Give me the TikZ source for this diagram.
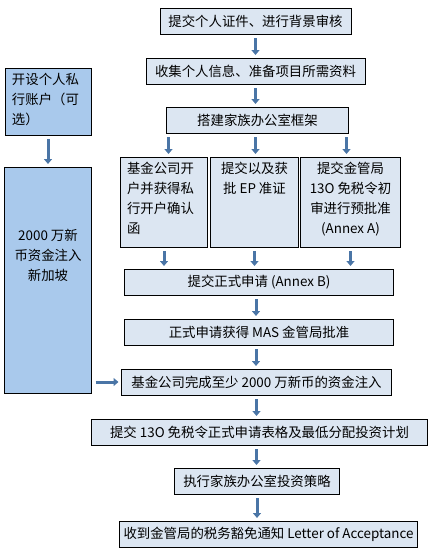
\documentclass[tikz,border=0pt]{standalone}
\usepackage{fontspec}
\setmainfont{Noto Sans CJK SC}
\usetikzlibrary{
	positioning,
	arrows.meta
}
\definecolor{paleblue}{HTML}{DCE6F2}
\definecolor{sideblue}{HTML}{A9C9EC}
\definecolor{arrowblue}{HTML}{4A75A6}

\begin{document}
\begin{tikzpicture}[
			x=1pt,y=1pt,
			node distance=24pt,
			font=\fontsize{13.4pt}{20pt}\selectfont,
			stepbox/.style={
				draw,
				line width=0.8pt,
				fill=paleblue,
				minimum height=26pt,
				inner sep=2pt,
				outer sep=0pt
			},
			cell/.style={
				draw,
				line width=0.8pt,
				fill=paleblue,
				minimum height=90pt,
				inner sep=0pt,
				outer sep=0pt
			},
			sidebox/.style={
				draw,
				line width=0.8pt,
				fill=sideblue,
				inner sep=0pt,
				outer sep=0pt
			},
			arrow/.style={-{Triangle[width=8pt,length=5pt]},line width=3pt,draw=arrowblue,shorten <=4pt,shorten >=3pt}
			]
			
			\useasboundingbox (0,0) rectangle (435,-550);
			
			\node[stepbox,minimum width=191pt] (check) at (255.5,-21)
			{提交个人证件、进行背景审核};
			
			\node[stepbox,minimum width=219pt,below=of check] (collect)
			{收集个人信息、准备项目所需资料};
			
			\node[stepbox,minimum width=182pt,below=23pt of collect,xshift=2pt] (frame)
			{搭建家族办公室框架};
			
			\node[cell,minimum width=88pt,below=24pt of frame,xshift=-3pt] (ep)
			{\parbox[c][80pt][t]{78pt}{\centering 提交以及获\\批 EP 准证}};
			
			\node[cell,minimum width=87pt,left=3pt of ep] (bank)
			{\parbox[c][80pt][t]{74pt}{\raggedright 基金公司开\\户并获得私\\行开户确认\\函}};
			
			\node[cell,minimum width=100pt,right=2pt of ep] (pre)
			{\parbox[c][80pt][t]{90pt}{\centering 提交金管局\\13O 免税令初\\审进行预批准\\(Annex A)}};
			
			\node[stepbox,minimum width=269pt,below=22pt of ep,xshift=4.5pt] (formal)
			{提交正式申请 (Annex B)};
			
			\node[stepbox,minimum width=269pt,below=of formal] (approve)
			{正式申请获得 MAS 金管局批准};
			
			\node[stepbox,minimum width=270pt,below=of approve,xshift=-2.5pt] (fund)
			{基金公司完成至少 2000 万新币的资金注入};
			
			\node[stepbox,minimum width=336pt,below=of fund,xshift=3pt] (form)
			{提交 13O 免税令正式申请表格及最低分配投资计划};
			
			\node[stepbox,minimum width=165pt,below=23pt of form,xshift=-2.5pt] (execute)
			{执行家族办公室投资策略};
			
			\node[stepbox,minimum width=298pt,below=27pt of execute,xshift=11.5pt] (accept)
			{收到金管局的税务豁免通知 Letter of Acceptance};
			
			\node[sidebox,minimum width=86pt,minimum height=67pt,anchor=north west] (account) at (5,-68)
			{\parbox[c][57pt][t]{72pt}{\raggedright 开设个人私\\行账户（可\\选）}};
			
			\node[sidebox,minimum width=87pt,minimum height=226pt,below=32pt of account] (capital)
			{\parbox[c][206pt][c]{80pt}{\centering 2000 万新\\币资金注入\\新加坡\par\vspace{50pt}}};
			
			\draw[arrow] (check.south)--(check.south |- collect.north);
			\draw[arrow] (collect.south)--(collect.south |- frame.north);
			\draw[arrow] ([xshift=2pt]frame.south west)--([xshift=2pt]frame.south west |- bank.north);
			\draw[arrow] ([xshift=-2pt]frame.south)--([xshift=-2pt]frame.south |- ep.north);
			\draw[arrow] ([xshift=-2pt]frame.south east)--([xshift=-2pt]frame.south east |- pre.north);
			\draw[arrow] (bank.south)--(bank.south |- formal.north);
			\draw[arrow] (ep.south)--(ep.south |- formal.north);
			\draw[arrow] (pre.south)--(pre.south |- formal.north);
			\draw[arrow] ([xshift=-3pt]formal.south)--([xshift=-3pt]formal.south |- approve.north);
			\draw[arrow] ([xshift=-3pt]approve.south)--([xshift=-3pt]approve.south |- fund.north);
			\draw[arrow] (fund.south)--(fund.south |- form.north);
			\draw[arrow] ([xshift=-3pt]form.south)--([xshift=-3pt]form.south |- execute.north);
			\draw[arrow] (execute.south)--(execute.south |- accept.north);
			\draw[arrow] (account)--(capital);
			\draw[arrow] (capital.east |- fund.west)--(fund.west);
			
		\end{tikzpicture}
\end{document}
